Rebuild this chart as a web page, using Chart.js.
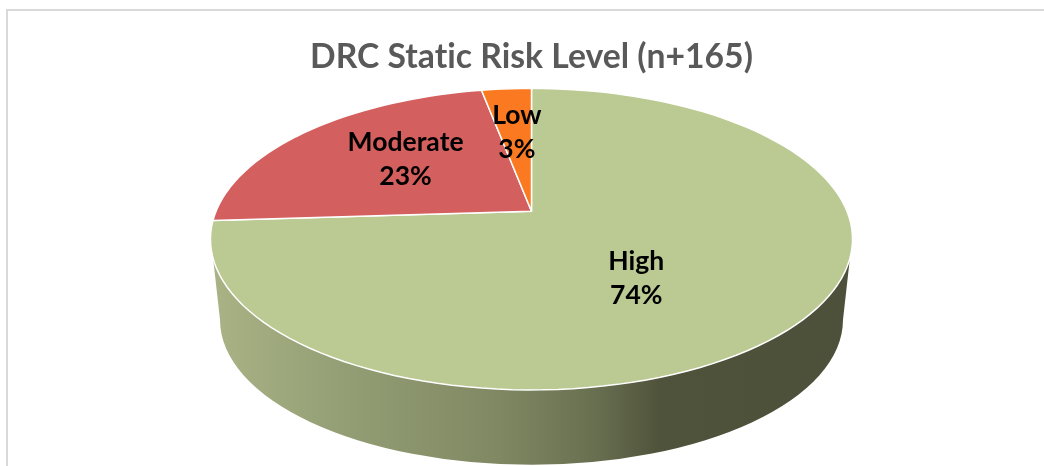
<!DOCTYPE html>
<html>
<head>
<meta charset="utf-8">
<style>html,body{margin:0;padding:0;background:#fff}canvas{display:block}</style>
<script src="https://cdn.jsdelivr.net/npm/chart.js@4"></script>
</head>
<body>
<canvas id="c" width="1044" height="466"></canvas>
<script>
const chartTitle = "DRC Static Risk Level (n+165)";
const categories = ["High", "Moderate", "Low"];
const riskPercent = [74, 23, 3];
const sliceColors = ["#BBC993", "#D45F5F", "#FB7A21"];
const labelNudges = [[-18, 14], [-8, -10], [-1, -12]];

const perspective = { a: 316 / 131, b: 145.8 / 131, k: -0.1854 };
const FONT = "Lato, Carlito, sans-serif";

function project(el, angle, r) {
  const R = el.outerRadius, u = r * Math.cos(angle), v = r * Math.sin(angle);
  const d = 1 + perspective.k * v;
  return [el.x + R * perspective.a * u / d, el.y + R * perspective.b * v / d];
}

const frame = {
  id: "frame",
  beforeDraw(chart) {
    const c = chart.ctx;
    c.letterSpacing = "0.01px";
    c.save();
    c.strokeStyle = "#D9D9D9";
    c.lineWidth = 2;
    c.beginPath();
    c.moveTo(7, 466);
    c.lineTo(7, 10);
    c.lineTo(1044, 10);
    c.stroke();
    c.restore();
  }
};

const pie3d = {
  id: "pie3d",
  beforeDatasetDraw(chart) {
    const c = chart.ctx, els = chart.getDatasetMeta(0).data;
    const el0 = els[0], R = el0.outerRadius, cx = el0.x, cy = el0.y;
    const topCy = cy + R * 28 / 131, topRx = R * 321.5 / 131, topRy = R * 151 / 131;
    const botCy = cy + R * 109 / 131, botRx = R * 312 / 131, botRy = R * 145 / 131;
    const seam = 7.2 * Math.PI / 180;

    c.save();
    const g = c.createLinearGradient(cx - topRx, 0, cx + topRx, 0);
    g.addColorStop(0, "#A9B385");
    g.addColorStop(0.22, "#939D74");
    g.addColorStop(0.45, "#7F8862");
    g.addColorStop(0.6, "#686F50");
    g.addColorStop(0.7, "#50533B");
    g.addColorStop(1, "#4D503A");
    c.beginPath();
    c.ellipse(cx, topCy, topRx, topRy, 0, seam, Math.PI - seam);
    c.lineTo(cx - botRx, botCy);
    c.ellipse(cx, botCy, botRx, botRy, 0, Math.PI, 0, true);
    c.closePath();
    c.fillStyle = g;
    c.fill();

    els.forEach((el, i) => {
      c.beginPath();
      c.moveTo(el.x, el.y);
      const n = 160, sweep = el.endAngle - el.startAngle;
      const steps = Math.max(4, Math.round(n * sweep / (2 * Math.PI)));
      for (let s = 0; s <= steps; s++) {
        const p = project(el, el.startAngle + sweep * s / steps, 1);
        c.lineTo(p[0], p[1]);
      }
      c.closePath();
      c.fillStyle = sliceColors[i];
      c.fill();
      c.strokeStyle = "#FFFFFF";
      c.lineWidth = 1.5;
      c.lineJoin = "round";
      c.stroke();
    });
    c.restore();
    return false;
  },
  afterDatasetsDraw(chart) {
    const c = chart.ctx, els = chart.getDatasetMeta(0).data;
    c.save();
    c.font = "bold 26.5px " + FONT;
    c.fillStyle = "#000";
    c.textAlign = "center";
    c.textBaseline = "middle";
    els.forEach((el, i) => {
      const p = project(el, (el.startAngle + el.endAngle) / 2, 0.5);
      const x = p[0] + labelNudges[i][0], y = p[1] + labelNudges[i][1];
      c.fillText(categories[i], x, y - 17);
      c.fillText(riskPercent[i] + "%", x, y + 17);
    });
    c.restore();
  }
};

new Chart(document.getElementById("c"), {
  type: "pie",
  data: {
    labels: categories,
    datasets: [{ data: riskPercent, backgroundColor: sliceColors, borderWidth: 0 }]
  },
  plugins: [frame, pie3d],
  options: {
    responsive: false,
    animation: false,
    layout: { padding: { left: 19, right: 0, top: 0, bottom: 124 } },
    plugins: {
      legend: { display: false },
      tooltip: { enabled: false },
      title: {
        display: true,
        text: chartTitle,
        color: "#595959",
        font: { family: FONT, size: 33.7, weight: "bold" },
        padding: { top: 37, bottom: 3 }
      }
    }
  }
});
</script>
</body>
</html>
